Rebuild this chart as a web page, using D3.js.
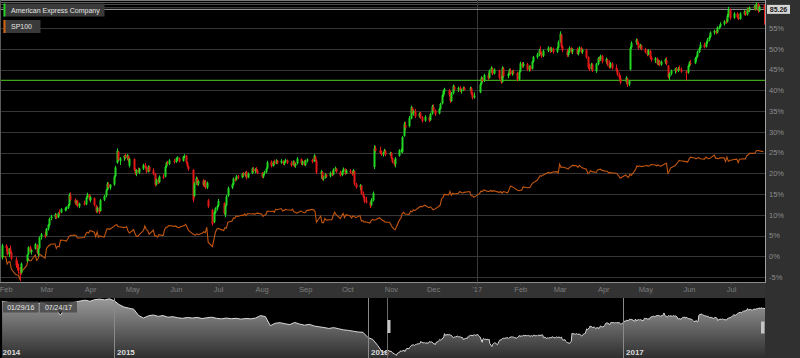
<!DOCTYPE html>
<html><head><meta charset="utf-8">
<script src="https://cdn.jsdelivr.net/npm/d3@7"></script>
<style>html,body{margin:0;padding:0;background:#303030;overflow:hidden}svg{display:block;font-family:"Liberation Sans",Arial,sans-serif}</style>
</head><body><svg id="c" width="800" height="358"></svg>
<script>
// ---------- DATA ----------
const seriesNames = ["American Express Company", "SP100"];
const startDate = "2016-01-29", endDate = "2017-07-24";
const holidays = ["2016-02-15","2016-03-25","2016-05-30","2016-07-04","2016-09-05","2016-11-24","2016-12-26","2017-01-02","2017-01-16","2017-02-20","2017-04-14","2017-05-29","2017-07-04"];
// AXP daily, % change
const axpOpen = [-0.3,
2.6,2.0,0.5,1.8,0.9,-0.8,-2.2,-2.6,-3.8,-4.0,-1.2,0.6,2.2,1.0,1.8,2.7,0.6,2.0,4.6,5.2,
5.0,6.6,7.5,9.2,9.4,10.0,9.4,10.6,10.6,11.2,11.4,11.7,12.3,14.6,13.6,12.8,13.3,12.0,12.8,12.5,14.2,14.8,
13.5,14.0,12.1,10.8,11.6,10.9,13.6,14.6,16.0,17.4,16.5,17.3,19.3,22.5,25.2,23.0,23.6,24.3,23.7,24.2,21.8,
23.4,20.8,20.0,20.7,20.2,21.1,21.9,21.4,20.4,21.5,20.7,19.9,17.3,18.4,17.9,19.2,19.2,21.6,22.4,22.3,23.0,
22.7,23.5,23.6,23.0,24.0,24.2,22.6,21.6,20.8,14.5,17.6,18.6,17.5,18.2,17.2,18.0,16.6,13.5,11.2,8.3,10.5,11.5,
12.2,12.8,10.0,12.3,14.6,16.5,17.3,18.6,18.5,19.2,19.0,19.7,19.5,20.4,19.0,20.0,21.0,20.5,21.0,20.6,
20.0,19.2,19.9,20.3,21.2,22.8,21.8,22.6,22.4,23.0,22.6,22.9,22.3,22.8,23.1,22.5,22.0,22.7,21.8,22.4,23.4,22.3,22.8,
22.0,23.0,23.2,22.9,24.0,23.1,19.8,20.3,18.8,18.9,19.6,19.3,20.1,19.7,21.0,21.1,20.3,19.6,20.5,21.0,20.0,
20.6,20.2,19.9,20.5,17.4,16.7,17.0,15.1,14.2,13.4,13.0,12.4,13.5,21.5,26.0,25.6,24.9,24.5,25.0,25.4,24.5,
24.9,23.6,22.7,22.2,24.2,25.4,25.2,29.0,31.6,31.4,33.2,35.8,34.4,35.0,33.7,34.5,33.5,32.7,33.5,32.8,34.4,
36.0,35.1,34.4,35.5,36.8,38.7,39.7,40.0,38.9,37.4,39.3,40.8,40.2,40.6,39.8,40.3,40.6,40.2,40.5,39.2,38.3,
39.5,41.5,42.8,42.3,43.6,43.0,44.6,45.2,44.0,44.8,43.1,42.0,45.2,43.4,44.1,44.8,44.0,44.5,44.2,42.6,
44.5,46.4,45.9,46.3,45.0,45.6,45.2,46.9,48.0,48.6,49.6,48.9,48.3,49.5,50.2,49.5,50.0,49.3,50.3,
51.7,53.4,50.6,49.5,48.5,49.3,50.1,49.3,49.9,48.8,49.6,50.2,49.2,49.7,48.0,45.5,45.2,46.2,44.6,46.3,47.6,47.4,48.2,
46.9,47.4,46.3,45.6,46.4,45.4,44.9,43.8,43.0,42.0,42.8,41.4,45.0,50.3,51.5,52.0,51.4,50.2,50.8,
49.9,49.2,48.6,49.5,47.9,47.2,47.6,46.4,47.0,46.2,46.8,47.3,46.0,43.2,44.0,44.7,45.1,44.7,45.3,45.0,44.5,44.3,
45.9,46.6,46.5,47.6,48.1,49.2,50.2,51.0,50.5,51.6,52.2,52.9,53.9,54.3,53.9,55.1,55.4,56.0,56.6,56.5,58.0,59.4,
57.5,58.5,57.6,57.2,58.5,58.9,58.3,59.6,59.2,59.9,60.2,59.5,60.8,59.1,60.4];
const axpHigh = [3.0,
2.9,2.3,2.0,2.6,1.2,-0.2,-1.2,-1.8,-2.6,-1.5,0.6,2.4,2.6,1.8,3.2,2.9,2.1,4.8,5.6,6.0,
6.8,7.8,9.3,10.0,10.4,10.2,10.6,11.3,11.6,11.8,12.0,12.6,15.2,15.4,13.9,13.6,13.5,12.9,13.4,14.4,15.3,15.0,
14.6,14.2,12.4,12.0,11.8,13.8,14.8,16.2,17.9,17.8,17.4,19.5,21.8,26.0,25.4,23.9,24.4,24.8,24.6,24.4,23.8,
23.6,21.2,21.0,21.4,21.3,22.3,22.5,21.7,21.9,21.8,21.2,20.1,18.8,18.9,19.5,19.8,21.8,22.8,23.0,23.4,23.5,
23.8,24.1,23.8,24.2,24.6,24.4,22.8,21.9,21.0,18.0,19.2,19.0,18.4,18.6,18.3,18.4,18.0,13.8,11.4,11.0,11.8,12.4,
13.8,13.0,12.6,14.8,16.8,17.6,19.0,19.0,19.6,19.6,20.1,20.3,20.4,20.6,20.2,21.4,21.5,21.3,21.5,21.0,
20.3,20.1,20.6,21.4,23.0,23.1,22.9,23.3,23.4,23.2,23.4,23.1,23.0,23.5,23.3,23.0,23.1,23.0,22.6,23.9,23.6,23.1,23.2,
23.3,23.6,23.5,24.6,24.3,23.3,20.8,20.5,19.4,20.0,19.9,20.4,20.5,21.2,21.6,21.3,20.6,20.7,21.4,21.2,21.0,
21.0,20.6,21.0,20.7,17.7,17.4,17.2,15.6,14.5,14.3,13.3,14.0,15.6,26.8,26.6,26.4,25.4,25.2,25.9,25.7,25.2,
25.1,23.8,23.2,23.9,25.8,26.0,29.0,32.4,32.4,33.8,36.3,36.0,35.4,35.5,34.7,34.8,33.8,34.0,33.7,34.6,36.5,
36.6,35.4,35.8,37.0,39.1,40.2,40.6,40.3,39.8,39.6,41.4,41.2,40.9,41.0,40.4,40.9,40.9,40.9,40.8,39.6,39.5,
41.8,43.4,43.2,44.0,44.2,45.0,45.8,45.5,45.3,45.0,43.6,45.8,45.6,44.3,45.2,45.3,44.8,45.0,44.5,44.8,
46.9,46.8,46.8,46.6,46.0,46.0,47.2,48.3,49.0,50.0,50.6,49.3,49.8,50.6,50.5,50.4,50.3,50.5,52.0,
54.2,53.6,50.9,50.0,49.6,50.6,50.4,50.2,50.3,49.9,50.6,50.5,50.1,50.0,48.2,46.4,46.6,46.5,46.6,48.0,48.1,48.6,48.5,
47.9,47.6,47.2,46.8,46.7,46.2,45.2,44.3,43.6,43.4,43.0,42.5,50.6,51.8,52.5,52.4,51.6,51.2,51.0,
50.2,49.8,49.9,49.7,48.2,48.0,47.9,47.4,47.3,47.2,47.7,48.0,46.1,44.4,45.0,45.4,45.6,45.6,46.0,45.5,44.9,46.2,
47.0,47.3,48.0,48.4,49.6,50.4,51.6,51.5,51.8,52.6,53.2,54.2,54.6,54.6,55.4,55.6,56.4,56.9,57.2,58.4,60.1,59.7,
58.8,58.8,58.4,58.8,59.3,59.2,59.9,60.0,60.2,60.5,60.6,61.2,61.0,60.5,60.8];
const axpLow = [-0.8,
1.2,0.2,-0.2,0.6,-1.0,-2.8,-3.4,-4.2,-6.0,-4.3,-1.4,0.3,0.9,0.4,1.6,0.5,0.0,1.8,4.0,4.4,
4.8,6.2,7.2,8.7,9.0,9.0,9.2,9.8,10.4,10.8,11.0,11.4,12.1,13.2,12.4,12.3,11.8,11.6,12.2,12.3,13.9,13.4,
13.0,12.0,10.4,10.5,10.2,10.7,13.3,14.2,15.8,16.2,16.0,17.0,19.0,22.3,22.8,22.0,23.0,23.4,23.2,22.6,21.4,
20.5,19.6,19.3,20.1,19.8,20.8,21.2,20.0,20.2,20.3,19.5,16.8,17.0,17.4,17.6,18.6,19.0,21.3,21.9,22.0,22.3,
22.5,23.0,22.6,22.8,23.6,22.3,21.4,20.6,13.0,14.2,17.2,17.0,17.0,16.8,16.7,16.2,16.2,11.6,7.4,8.0,10.2,11.0,
11.9,10.0,9.4,12.0,14.3,16.2,17.1,18.0,18.2,18.6,18.8,19.1,19.2,18.5,18.8,19.8,20.2,20.0,20.3,19.8,
18.8,18.8,19.5,20.0,21.0,21.4,21.6,22.0,22.2,22.2,22.3,22.0,21.9,22.5,22.2,21.6,21.8,21.5,21.3,22.1,22.0,21.9,21.8,
21.7,22.6,22.4,22.7,22.8,19.8,18.7,18.3,18.2,18.7,18.9,19.0,19.3,19.5,20.5,20.1,19.2,19.3,20.2,19.6,19.8,
19.9,19.4,19.7,17.0,16.3,16.0,14.8,14.0,12.8,12.7,11.6,12.0,13.2,21.0,25.0,24.6,24.2,24.0,24.7,24.1,24.2,
23.4,22.4,21.8,21.4,24.0,25.0,24.8,28.8,30.4,31.1,33.0,34.2,33.9,33.3,33.4,33.1,32.2,32.4,32.3,32.6,34.1,
34.8,33.8,34.2,35.3,36.6,38.4,39.1,38.5,36.9,37.2,39.0,39.8,39.6,39.6,39.2,39.8,39.9,39.8,38.8,37.8,38.0,
39.3,41.2,41.8,42.0,42.5,42.8,44.2,43.6,43.8,42.6,41.5,41.8,43.0,42.9,43.7,43.6,43.5,43.8,42.2,42.4,
44.3,45.4,45.5,44.6,44.5,44.6,45.0,46.6,47.6,48.2,48.6,47.8,48.0,49.2,49.0,49.2,48.8,49.0,50.1,
51.5,50.2,49.2,48.0,48.1,49.0,48.9,48.7,48.6,48.4,49.3,48.9,48.8,47.6,45.1,44.6,44.9,44.4,44.2,46.0,46.9,47.1,46.5,
46.4,45.8,45.2,45.3,45.0,44.5,43.4,42.6,41.4,41.6,40.8,41.0,44.8,50.0,51.0,51.0,49.8,49.9,49.6,
48.9,48.2,48.4,47.6,46.9,46.6,46.1,46.0,45.8,45.9,46.3,46.0,42.8,42.5,43.6,44.0,44.3,44.4,44.8,44.2,42.4,44.0,
45.6,46.0,46.3,47.0,47.9,49.0,49.8,50.1,50.3,51.2,51.8,52.6,53.4,53.5,53.7,54.7,55.1,55.6,56.0,56.3,57.6,57.0,
57.2,57.3,56.9,57.0,58.1,57.9,58.0,58.9,58.8,59.3,59.2,59.3,58.6,58.9,55.8];
const axpClose = [2.6,
2.0,0.4,1.8,0.9,-0.6,-2.2,-2.8,-3.6,-4.4,-1.8,0.4,2.1,1.2,1.5,2.9,0.9,1.9,4.5,5.3,4.8,
6.6,7.5,9.0,9.6,10.1,9.3,10.4,10.3,11.3,11.5,11.8,12.3,14.8,13.6,12.8,13.3,12.1,12.7,12.5,14.1,14.9,13.7,
14.3,12.3,10.8,11.7,10.6,13.5,14.5,15.9,17.5,16.6,17.2,19.2,21.4,25.4,23.2,23.6,24.2,23.8,24.4,23.0,23.5,
20.8,20.0,20.8,20.3,21.1,22.0,21.4,20.4,21.6,20.6,19.9,17.2,18.5,17.8,19.2,19.0,21.5,22.5,22.2,23.1,22.7,
23.6,23.9,22.9,24.0,24.2,22.6,21.7,21.0,13.6,17.6,18.8,17.4,18.1,17.1,18.0,16.5,17.7,12.0,7.8,10.6,11.6,12.1,
13.3,10.3,12.2,14.4,16.4,17.3,18.7,18.4,19.3,19.0,19.8,19.4,20.1,18.9,19.9,21.1,20.5,21.0,20.6,20.0,
19.2,19.8,20.3,21.1,22.6,21.7,22.6,22.3,23.1,22.5,23.0,22.3,22.8,23.2,22.5,21.9,22.8,21.8,22.3,23.5,22.4,22.9,22.0,
23.0,23.3,22.8,24.2,23.2,20.2,20.4,18.7,18.9,19.7,19.2,20.1,19.6,20.9,21.2,20.4,19.5,20.5,21.1,19.9,20.7,
20.2,19.8,20.7,17.4,16.6,17.1,15.1,14.3,13.2,13.0,12.2,13.6,15.2,26.0,25.4,24.9,24.6,25.0,25.5,24.4,24.9,
23.6,22.7,22.2,23.6,25.5,25.6,28.7,31.8,31.0,33.3,35.9,34.5,35.1,33.7,34.4,33.5,32.6,33.6,32.7,34.3,36.1,
35.1,34.2,35.5,36.7,38.8,39.8,40.2,38.9,37.4,39.3,41.0,40.2,40.6,39.9,40.2,40.6,40.1,40.5,39.1,38.2,38.7,
41.4,43.0,42.2,43.7,42.9,44.7,45.4,44.0,45.0,43.0,41.9,45.3,43.4,44.0,44.9,43.9,44.5,44.2,42.6,44.4,
46.5,45.8,46.4,45.0,45.7,45.0,46.9,48.0,48.6,49.6,49.0,48.2,49.5,50.3,49.4,50.1,49.2,50.2,51.6,
53.6,50.6,49.6,48.4,49.3,50.2,49.2,49.9,48.9,49.6,50.3,49.2,49.8,48.0,45.5,45.1,46.3,44.8,46.3,47.7,47.3,48.3,46.9,
47.5,46.2,45.5,46.5,45.3,44.9,43.8,43.0,41.9,43.0,41.3,42.2,50.2,51.4,52.1,51.4,50.1,50.9,49.9,
49.2,48.6,49.6,47.9,47.3,47.7,46.4,47.1,46.2,46.9,47.4,46.4,43.2,44.0,44.7,45.2,44.7,45.3,45.0,44.5,44.1,45.9,
46.7,46.5,47.7,48.1,49.2,50.1,51.0,50.4,51.5,52.2,52.9,53.9,54.3,53.8,55.1,55.3,56.0,56.6,56.4,58.0,59.6,57.4,
58.5,57.6,57.2,58.5,58.9,58.2,59.6,59.2,59.9,60.2,59.5,60.9,59.1,60.2,59.5];
// SP100 daily, % change
const spClose = [0.0,
-0.1,-1.9,-1.4,-1.3,-3.1,-4.4,-4.5,-4.5,-5.6,-3.8,-2.2,-0.6,-1.1,-1.1,0.3,-1.0,-0.6,0.5,0.3,-0.5,
1.9,2.3,2.6,2.9,3.0,1.9,2.4,2.3,3.9,3.8,3.6,4.1,4.8,5.0,5.1,5.0,4.4,4.4,4.5,5.4,5.8,5.6,
6.2,5.8,4.7,5.9,4.6,4.9,4.6,5.5,6.6,6.6,6.5,7.2,7.5,7.6,7.1,7.1,6.9,7.0,7.1,6.1,5.6,
6.4,5.4,4.8,4.8,5.2,6.2,7.3,6.4,6.2,5.3,6.3,4.9,4.9,4.6,5.2,5.0,6.4,7.0,7.0,7.4,7.2,
7.3,7.0,6.9,7.3,7.4,7.7,7.0,6.2,5.4,5.2,5.1,5.4,5.2,5.6,5.9,5.7,7.0,3.4,2.3,3.9,5.6,6.5,
6.7,6.2,6.9,6.8,8.2,8.5,9.2,9.2,9.7,9.6,9.9,9.8,10.2,9.8,10.3,10.2,10.3,10.1,10.3,10.4,
10.2,9.6,9.9,10.0,10.9,10.8,10.9,10.6,11.3,11.2,11.5,10.9,11.1,11.3,11.2,11.1,11.3,10.7,10.6,10.4,10.9,10.7,10.5,
10.5,11.0,11.3,11.2,10.8,8.2,9.7,8.1,8.1,9.1,8.7,8.8,8.8,9.9,10.6,10.0,9.1,9.8,10.3,9.3,10.0,
9.7,9.2,9.7,9.6,9.3,9.8,8.5,8.6,8.2,8.3,8.0,8.6,8.9,8.7,8.8,9.3,8.9,8.7,8.5,8.2,8.2,
7.6,7.0,6.6,6.4,8.7,9.1,10.3,10.6,10.2,10.1,10.9,10.7,11.2,11.0,11.8,12.0,11.9,12.3,11.7,11.9,11.6,
11.2,11.3,12.0,12.3,13.8,14.2,14.9,14.8,15.6,14.7,15.2,15.0,15.2,15.6,15.4,15.2,15.4,15.6,14.6,14.6,14.2,
15.1,15.7,15.6,16.0,15.6,15.6,15.9,15.6,15.8,15.4,15.6,15.2,15.6,15.3,16.0,16.9,16.8,16.6,15.9,15.8,
15.9,15.9,16.7,16.5,16.5,16.6,17.3,17.7,18.3,18.8,19.4,19.3,19.5,20.2,20.1,20.1,20.3,20.4,20.1,
22.2,21.4,21.5,21.2,21.0,21.4,21.6,21.9,21.8,21.4,21.9,21.6,21.3,21.0,19.9,20.1,20.6,20.4,20.2,20.8,20.9,21.0,20.7,
20.5,20.5,20.0,20.2,20.1,20.0,19.8,19.4,18.8,19.6,19.2,19.0,19.8,19.5,20.9,21.8,21.6,21.8,21.6,
21.8,21.9,21.7,21.8,22.1,22.0,21.8,22.0,21.8,21.7,22.3,22.4,20.0,20.5,21.3,21.8,22.2,22.6,23.1,23.0,22.8,22.7,
23.4,23.9,23.7,23.5,23.7,23.8,23.5,23.4,23.9,23.7,23.5,23.6,24.4,23.6,23.6,23.5,23.7,23.7,22.8,23.9,22.9,23.1,
23.3,23.4,22.6,23.4,23.5,23.4,24.2,24.4,24.8,24.8,24.9,25.5,25.5,25.4,25.2];
const basePrice = 53.45;           // AXP price at 0%
const lastPriceLabel = "85.26";
const refLinePct = 42.4;           // green horizontal reference line
// navigator: weekly AXP prices before the selected range, from 2014-07-25
const navStart = "2014-07-25";
const navPrices = [90.5,90.0,89.2,88.8,89.6,89.2,88.6,89.0,89.4,88.4,
87.0,84.5,80.5,86.5,89.2,90.0,90.8,91.4,90.6,91.8,
92.2,91.6,92.4,91.0,88.2,86.4,85.6,84.8,80.2,78.4,
80.0,80.6,79.6,80.2,79.0,79.4,78.6,78.2,78.8,78.4,
78.9,78.0,78.6,79.0,78.2,77.8,78.4,77.9,78.2,77.6,
78.1,77.8,78.4,80.2,79.4,72.8,74.6,75.0,74.2,73.6,
75.2,74.0,73.2,73.8,72.6,72.0,71.5,70.8,71.4,70.6,
69.8,69.4,68.8,68.2,68.0,64.2,62.8,58.5,53.2];
const pctTicks = [-5,0,5,10,15,20,25,30,35,40,45,50,55];
const monthTickDates = ["2016-02-01","2016-03-01","2016-04-01","2016-05-01","2016-06-01","2016-07-01","2016-08-01","2016-09-01","2016-10-01","2016-11-01","2016-12-01","2017-01-01","2017-02-01","2017-03-01","2017-04-01","2017-05-01","2017-06-01","2017-07-01"];
const monthTickLabels = ["Feb","Mar","Apr","May","Jun","Jul","Aug","Sep","Oct","Nov","Dec","'17","Feb","Mar","Apr","May","Jun","Jul"];
const yearTickDates = ["2014-07-22","2015-01-01","2016-01-01","2017-01-01"];
const yearTickLabels = ["2014","2015","2016","2017"];
const rangeLabels = ["01/29/16","07/24/17"];

// ---------- CHART ----------
const parse = d3.timeParse("%Y-%m-%d"), fmt = d3.timeFormat("%Y-%m-%d");
const hol = new Set(holidays);
const days = d3.timeDay.range(parse(startDate), d3.timeDay.offset(parse(endDate), 1))
  .filter(d => d.getDay() !== 0 && d.getDay() !== 6 && !hol.has(fmt(d)));
const n = Math.min(days.length, axpClose.length);
const candles = d3.range(n).map(i => ({d: days[i], o: axpOpen[i], h: axpHigh[i], l: axpLow[i], c: axpClose[i]}));
const sp = d3.range(Math.min(days.length, spClose.length)).map(i => ({d: days[i], v: spClose[i]}));

const svg = d3.select("#c");
const PR = 765, PB = 282.5;
const x = d3.scaleTime().domain([parse(startDate), parse(endDate)]).range([1.5, 763.5]);
const y = d3.scaleLinear().domain([-5, 60]).range([277, 7.3]);

svg.append("rect").attr("x", 0).attr("y", 0).attr("width", 800).attr("height", 358).attr("fill", "#303030");
svg.append("rect").attr("x", 0).attr("y", 0).attr("width", PR).attr("height", PB).attr("fill", "#000");

// top frame lines
[[0.5, "#7a7a7a"], [2.5, "#5e5e5e"], [4.5, "#4a4a4a"]].forEach(([yy, col]) =>
  svg.append("line").attr("x1", 0).attr("x2", PR).attr("y1", yy).attr("y2", yy).attr("stroke", col));

// gridlines
svg.append("g").selectAll("line").data(pctTicks.concat([60])).join("line")
  .attr("x1", 0).attr("x2", PR)
  .attr("y1", d => Math.round(y(d)) + 0.5).attr("y2", d => Math.round(y(d)) + 0.5)
  .attr("stroke", "#363636").attr("stroke-width", 1.2);
// year divider
const xj = Math.round(x(parse("2017-01-01"))) + 0.5;
svg.append("line").attr("x1", xj).attr("x2", xj).attr("y1", 0).attr("y2", PB).attr("stroke", "#3a3a3a");

// last price line
const yl = y(axpClose[n - 1]);
svg.append("line").attr("x1", 0).attr("x2", PR).attr("y1", yl).attr("y2", yl).attr("stroke", "#a8a8a8");
// green reference line
svg.append("line").attr("x1", 0).attr("x2", PR).attr("y1", y(refLinePct)).attr("y2", y(refLinePct))
  .attr("stroke", "#3fa41c").attr("stroke-width", 1.3);

// SP100 line
svg.append("path").datum(sp)
  .attr("d", d3.line().x(d => x(d.d)).y(d => y(d.v)))
  .attr("fill", "none").attr("stroke", "#c2560f").attr("stroke-width", 1.1);

// candles
const up = "#22d622", dn = "#e01818";
const cg = svg.append("g");
cg.selectAll("line").data(candles).join("line")
  .attr("x1", d => Math.round(x(d.d)) + 0.5).attr("x2", d => Math.round(x(d.d)) + 0.5)
  .attr("y1", d => y(d.h)).attr("y2", d => y(d.l))
  .attr("stroke", d => d.c >= d.o ? up : dn).attr("stroke-width", 1);
cg.selectAll("rect").data(candles).join("rect")
  .attr("x", d => Math.round(x(d.d)) - 0.5).attr("width", 2)
  .attr("y", d => y(Math.max(d.o, d.c)))
  .attr("height", d => Math.max(1, Math.abs(y(d.o) - y(d.c))))
  .attr("fill", d => d.c >= d.o ? up : dn);

// borders
svg.append("line").attr("x1", 0.5).attr("x2", 0.5).attr("y1", 0).attr("y2", PB).attr("stroke", "#5a5a5a");
svg.append("line").attr("x1", PR + 0.5).attr("x2", PR + 0.5).attr("y1", 0).attr("y2", PB).attr("stroke", "#a0a0a0");
svg.append("line").attr("x1", 0).attr("x2", PR + 1).attr("y1", PB).attr("y2", PB).attr("stroke", "#8a8a8a");

// right axis
const ya = svg.append("g").attr("transform", `translate(${PR + 3},0)`)
  .call(d3.axisRight(y).tickValues(pctTicks).tickFormat(d => d + "%").tickSize(0).tickPadding(1));
ya.select(".domain").remove();
ya.selectAll("text").attr("fill", "#8c8c8c").attr("font-size", 7.5).attr("font-family", "Liberation Sans, Arial, sans-serif");

// last price tag
svg.append("rect").attr("x", PR + 2).attr("y", yl - 4.5).attr("width", 23).attr("height", 9).attr("fill", "#d6d6d6");
svg.append("text").attr("x", PR + 13.5).attr("y", yl + 2.6).attr("text-anchor", "middle")
  .attr("font-size", 7).attr("font-weight", "bold").attr("fill", "#222").text(lastPriceLabel);

// bottom axis band
svg.append("rect").attr("x", 0).attr("y", PB + 0.5).attr("width", PR).attr("height", 14.5).attr("fill", "#333");
const xa = svg.append("g").attr("transform", `translate(0,${PB})`)
  .call(d3.axisBottom(x).tickValues(monthTickDates.map(parse)).tickFormat((d, i) => monthTickLabels[i]).tickSize(2).tickPadding(2));
xa.select(".domain").remove();
xa.selectAll("line").attr("stroke", "#555");
xa.selectAll("text").attr("fill", "#7c7c7c").attr("font-size", 7.5).attr("font-family", "Liberation Sans, Arial, sans-serif");

// legend
const leg = [[seriesNames[0], "#22cc22", 3.5, 101], [seriesNames[1], "#d0620f", 20, 37]];
leg.forEach(([t, col, yy, w]) => {
  svg.append("rect").attr("x", 3.5).attr("y", yy).attr("width", w).attr("height", 13).attr("fill", "#3a3a3a");
  svg.append("rect").attr("x", 3.5).attr("y", yy).attr("width", 2).attr("height", 13).attr("fill", col);
  svg.append("text").attr("x", 11).attr("y", yy + 9.3).attr("font-size", 7).attr("fill", "#e6e6e6").text(t);
});

// ---------- NAVIGATOR ----------
const NT = 298, NB = 358;
svg.append("rect").attr("x", 0).attr("y", NT).attr("width", PR).attr("height", NB - NT).attr("fill", "#000");
const xn = d3.scaleTime().domain([parse("2014-07-22"), parse(endDate)]).range([0, PR]);
const yn = d3.scaleLinear().domain([50, 93]).range([357, 298]);
const navData = navPrices.map((v, i) => ({d: d3.timeDay.offset(parse(navStart), 7 * i), v}))
  .concat(candles.map(c => ({d: c.d, v: basePrice * (1 + c.c / 100)})));
const grad = svg.append("defs").append("linearGradient").attr("id", "ng")
  .attr("gradientUnits", "userSpaceOnUse").attr("x1", 0).attr("x2", 0).attr("y1", NT).attr("y2", NB);
grad.append("stop").attr("offset", "0%").attr("stop-color", "#9a9a9a");
grad.append("stop").attr("offset", "100%").attr("stop-color", "#2e2e2e");
svg.append("path").datum(navData)
  .attr("d", d3.area().x(d => xn(d.d)).y0(NB).y1(d => yn(d.v)))
  .attr("fill", "url(#ng)");
svg.append("path").datum(navData)
  .attr("d", d3.line().x(d => xn(d.d)).y(d => yn(d.v)))
  .attr("fill", "none").attr("stroke", "#d8d8d8").attr("stroke-width", 1);
// year separators + labels
yearTickDates.forEach((s, i) => {
  const xx = Math.round(xn(parse(s))) + 0.5;
  if (i > 0) svg.append("line").attr("x1", xx).attr("x2", xx).attr("y1", NT).attr("y2", NB).attr("stroke", "#8a8a8a");
  svg.append("text").attr("x", (i > 0 ? xx : 0) + 2.5).attr("y", 354.5).attr("font-size", 8)
    .attr("font-weight", "bold").attr("fill", "#dcdcdc").text(yearTickLabels[i]);
});
// selection edges & handles
const xs0 = Math.round(xn(parse(startDate))) + 0.5, xs1 = xn(parse(endDate));
svg.append("line").attr("x1", xs0).attr("x2", xs0).attr("y1", NT).attr("y2", NB).attr("stroke", "#6a6a6a");
svg.append("rect").attr("x", xs0).attr("y", 320).attr("width", 3).attr("height", 13).attr("fill", "#c4c4c4");
svg.append("rect").attr("x", xs1 - 4).attr("y", 321.5).attr("width", 3.5).attr("height", 12).attr("fill", "#c4c4c4");
// range labels
[[3, 35.5], [40, 37]].forEach(([xx, w], i) => {
  svg.append("rect").attr("x", xx).attr("y", 301.5).attr("width", w).attr("height", 11).attr("fill", "#4a4a4a").attr("fill-opacity", 0.85);
  svg.append("text").attr("x", xx + w / 2).attr("y", 309.8).attr("text-anchor", "middle")
    .attr("font-size", 7).attr("fill", "#e8e8e8").text(rangeLabels[i]);
});
</script>
</body></html>
